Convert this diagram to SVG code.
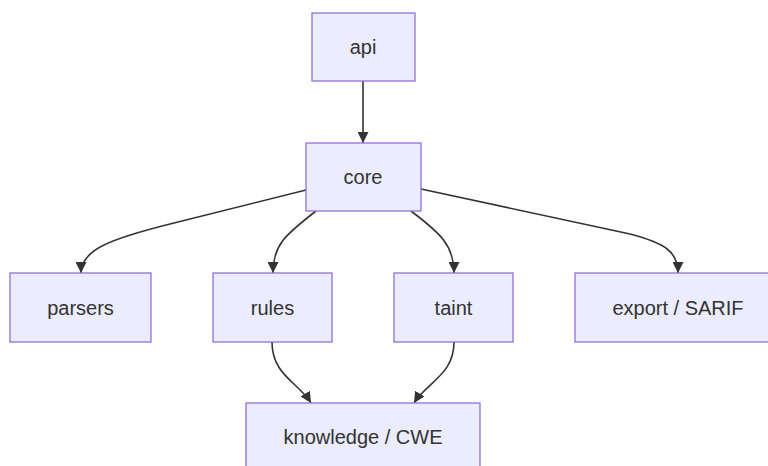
<svg xmlns="http://www.w3.org/2000/svg" width="768" height="466" viewBox="0 0 768 466">
<style>
.node rect{fill:#ECECFF;stroke:#9370DB;stroke-width:1.3}
.node text{font-family:"Liberation Sans",Arial,sans-serif;font-size:20px;fill:#333;text-anchor:middle}
.edge{fill:none;stroke:#333;stroke-width:1.6}
</style>
<defs>
<marker id="arr" viewBox="0 0 10 10" refX="10" refY="5" markerWidth="11" markerHeight="11" markerUnits="userSpaceOnUse" orient="auto">
<path d="M0,0 L10,5 L0,10 z" fill="#333"/>
</marker>
</defs>
<rect width="768" height="466" fill="#fff"/>
<g id="connectors">
<path class="edge" d="M363,81 L363,143" marker-end="url(#arr)"/>
<path class="edge" d="M306,190 L170,224 C110,239 81,250 81,273" marker-end="url(#arr)"/>
<path class="edge" d="M316,211 C285,235 273,245 273,273" marker-end="url(#arr)"/>
<path class="edge" d="M411,211 C440,233 454,245 454,273" marker-end="url(#arr)"/>
<path class="edge" d="M421,189 L630,234 C665,243 678,252 678,273" marker-end="url(#arr)"/>
<path class="edge" d="M272,342 C272,375 298,382 311,403" marker-end="url(#arr)"/>
<path class="edge" d="M454,342 C454,375 427,382 414,403" marker-end="url(#arr)"/>
</g>
<g id="api" class="node"><rect x="312" y="13" width="103" height="68"/><text x="363" y="54">api</text></g>
<g id="core" class="node"><rect x="306" y="143" width="115" height="68"/><text x="363" y="184">core</text></g>
<g id="parsers" class="node"><rect x="10" y="273" width="141" height="69"/><text x="80.5" y="315">parsers</text></g>
<g id="rules" class="node"><rect x="213" y="273" width="119" height="69"/><text x="272.5" y="315">rules</text></g>
<g id="taint" class="node"><rect x="394" y="273" width="119" height="69"/><text x="453.5" y="315">taint</text></g>
<g id="export" class="node"><rect x="575" y="273" width="206" height="69"/><text x="678" y="315">export / SARIF</text></g>
<g id="knowledge" class="node"><rect x="246" y="403" width="234" height="69"/><text x="363" y="444">knowledge / CWE</text></g>
</svg>
